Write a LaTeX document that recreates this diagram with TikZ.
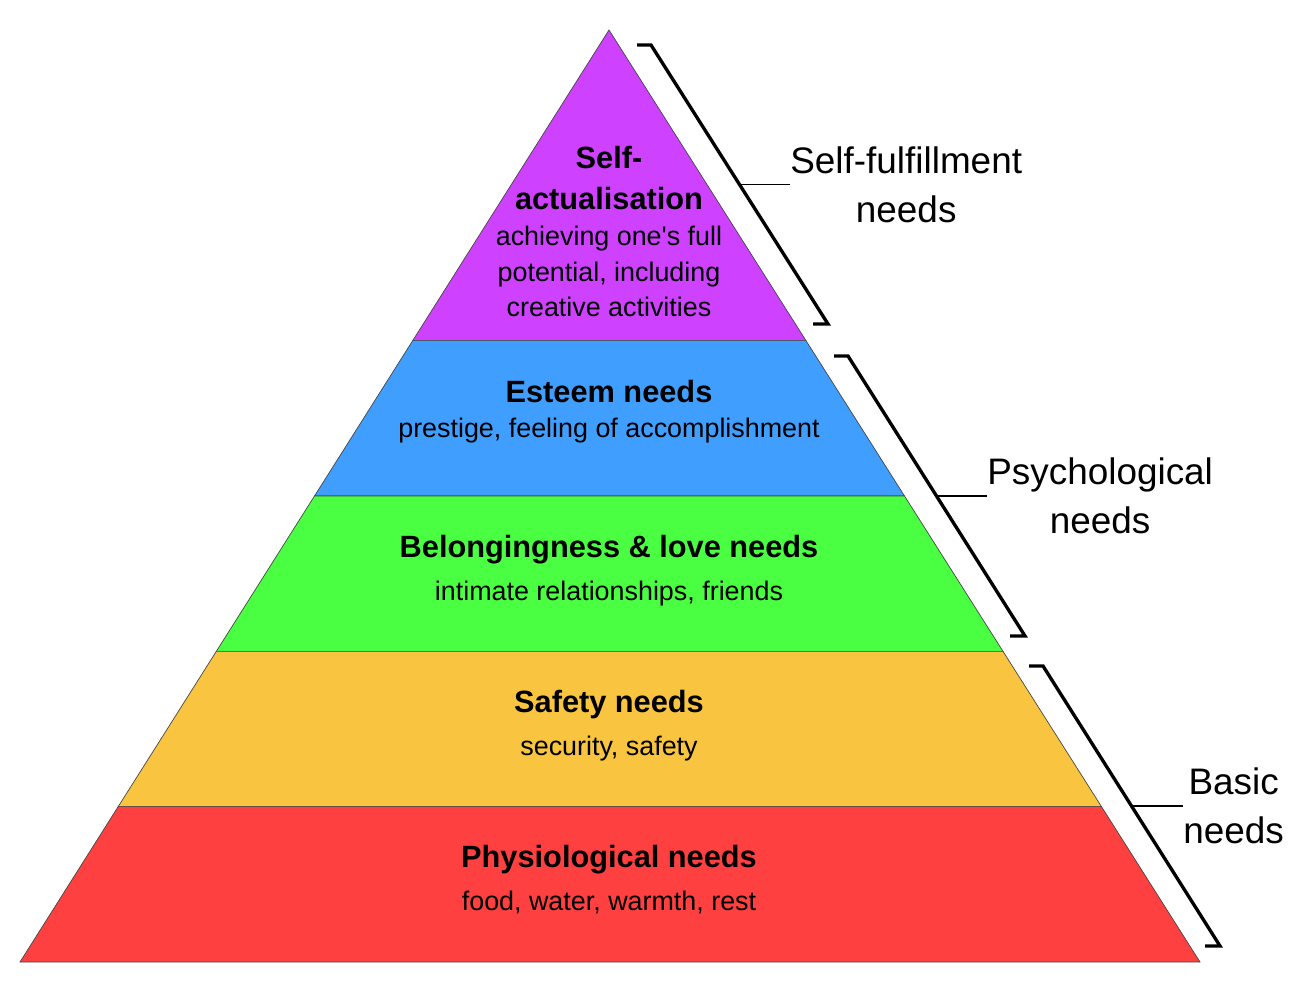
\documentclass[tikz,border=0pt]{standalone}
\usepackage{fontspec}
\setmainfont{Liberation Sans}
\usepackage{tikz}
\usetikzlibrary{calc}
\definecolor{selfpurple}{RGB}{206, 66, 255}
\definecolor{esteemblue}{RGB}{64, 158, 255}
\definecolor{lovegreen}{RGB}{74, 255, 66}
\definecolor{safetyyellow}{RGB}{249, 197, 64}
\definecolor{physred}{RGB}{255, 64, 64}
\definecolor{edgegray}{RGB}{70, 70, 70}

\begin{document}
\begin{tikzpicture}[x=0.02cm, y=-0.02cm,
    layer/.style={draw=edgegray, line width=0.4pt},
    bracket/.style={line width=1.9pt, line join=miter},
    tick/.style={line width=1.1pt},
    head/.style={font=\bfseries\fontsize{17.5}{23.8}\selectfont, align=center, inner sep=0pt},
    sub/.style={font=\fontsize{15.3}{20.1}\selectfont, align=center, inner sep=0pt},
    side/.style={font=\fontsize{21}{27.8}\selectfont, align=center, inner sep=0pt}]
    \useasboundingbox (0,0) rectangle (1302,993);

    % Corners
    \coordinate (apex) at (609,30);
    \coordinate (bl) at (20,962);
    \coordinate (br) at (1200,962);
    \foreach \t/\n in {0.3333/a, 0.5/b, 0.6667/c, 0.8333/d} {
        \coordinate (l\n) at ($(apex)!\t!(bl)$);
        \coordinate (r\n) at ($(apex)!\t!(br)$);
    }

    % Layers
    \filldraw[layer, fill=selfpurple] (apex) -- (la) -- (ra) -- cycle;
    \filldraw[layer, fill=esteemblue] (la) -- (lb) -- (rb) -- (ra) -- cycle;
    \filldraw[layer, fill=lovegreen] (lb) -- (lc) -- (rc) -- (rb) -- cycle;
    \filldraw[layer, fill=safetyyellow] (lc) -- (ld) -- (rd) -- (rc) -- cycle;
    \filldraw[layer, fill=physred] (ld) -- (bl) -- (br) -- (rd) -- cycle;

    % Layer texts (base of a multi-line node is its last line)
    \node[head, anchor=base] (selfT) at (609,210) {Self-\\actualisation};
    \node[sub, anchor=base] (selfS) at (609,316.5) {achieving one\textquotesingle s full\\potential, including\\creative activities};
    \node[head, anchor=base] (esteemT) at (609,402) {Esteem needs};
    \node[sub, anchor=base] (esteemS) at (609,437) {prestige, feeling of accomplishment};
    \node[head, anchor=base] (loveT) at (609,557) {Belongingness \& love needs};
    \node[sub, anchor=base] (loveS) at (609,600) {intimate relationships, friends};
    \node[head, anchor=base] (safetyT) at (609,712) {Safety needs};
    \node[sub, anchor=base] (safetyS) at (609,755) {security, safety};
    \node[head, anchor=base] (physT) at (609,867) {Physiological needs};
    \node[sub, anchor=base] (physS) at (609,910) {food, water, warmth, rest};

    % Brackets
    \coordinate (b1t) at (651,45);   \coordinate (b1b) at (828,324);
    \coordinate (b2t) at (848,356);  \coordinate (b2b) at (1025,636);
    \coordinate (b3t) at (1043,666); \coordinate (b3b) at (1220,946);
    \foreach \b in {b1, b2, b3} {
        \draw[bracket] ($(\b t)+(-14,0)$) -- (\b t) -- (\b b) -- ($(\b b)+(-15,0)$);
        \coordinate (\b m) at ($(\b t)!0.5!(\b b)$);
    }

    % Side labels
    \node[side, anchor=west] (fulfil) at (790,184.5) {Self-fulfillment\\needs};
    \node[side, anchor=west] (psych) at (987,496) {Psychological\\needs};
    \node[side, anchor=west] (basic) at (1183,806) {Basic\\needs};
    \draw[tick] (b1m) -- (fulfil.west);
    \draw[tick] (b2m) -- (psych.west);
    \draw[tick] (b3m) -- (basic.west);
\end{tikzpicture}
\end{document}
